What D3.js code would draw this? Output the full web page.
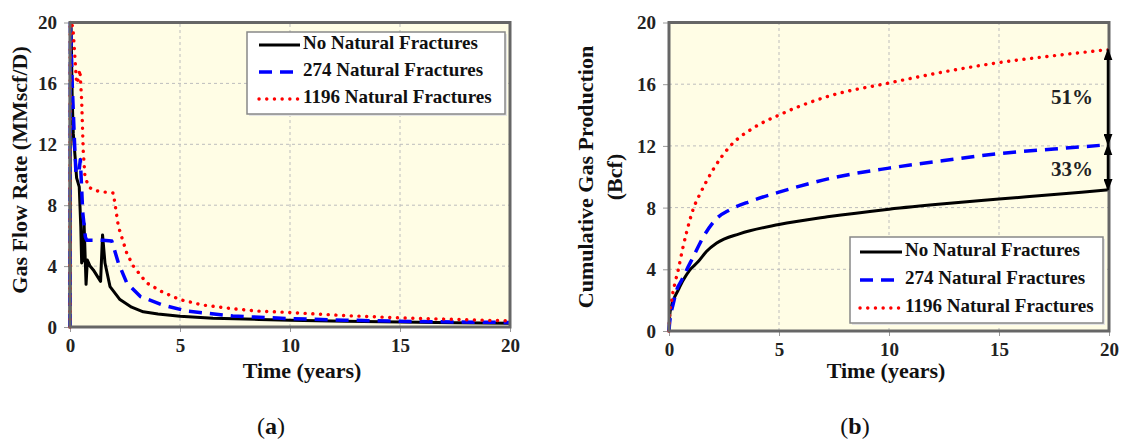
<!DOCTYPE html>
<html>
<head>
<meta charset="utf-8">
<script src="https://cdn.jsdelivr.net/npm/d3@7"></script>
<style>
  body { margin: 0; background: #fff; }
  svg { display: block; }
  text { font-family: "Liberation Serif", "Times New Roman", serif; }
</style>
</head>
<body>
<svg id="chart" width="1123" height="441"></svg>
<script>
// ---------- DATA ----------
const seriesNames = ["No Natural Fractures", "274 Natural Fractures", "1196 Natural Fractures"];
const xTicks = [0, 5, 10, 15, 20];
const yTicks = [0, 4, 8, 12, 16, 20];

// Panel (a): gas flow rate (MMscf/D) vs time (years)
const rateNoNF = [[0,0],[0.02,20],[0.05,19.6],[0.1,15],[0.15,12.7],[0.23,11.2],[0.3,9.8],[0.42,9.2],[0.49,6.6],[0.53,4.2],[0.6,4.5],[0.64,6.8],[0.73,2.8],[0.79,4.4],[0.91,4.0],[1.06,3.75],[1.39,3.0],[1.48,6.05],[1.59,4.2],[1.82,2.65],[2.27,1.8],[2.8,1.3],[3.33,1.0],[4,0.85],[5,0.7],[6.5,0.58],[8.6,0.5],[10,0.45],[12.5,0.38],[15,0.33],[17.5,0.28],[20,0.25]];
const rate274 = [[0,0],[0.02,20],[0.1,16],[0.2,12.3],[0.27,10.1],[0.4,10.1],[0.47,11],[0.58,7.5],[0.7,5.9],[0.76,5.7],[1.5,5.7],[1.9,5.65],[2.2,4.2],[2.58,2.9],[3.2,2.0],[4.2,1.45],[5.3,1.05],[7.4,0.72],[10,0.55],[12.5,0.45],[15,0.38],[17.5,0.33],[20,0.3]];
const rate1196 = [[0,0],[0.01,20],[0.1,19.8],[0.15,19.3],[0.23,17.6],[0.3,16.0],[0.38,16.3],[0.45,16.9],[0.53,14.9],[0.6,11.6],[0.68,9.9],[0.85,9.2],[1.06,9.0],[1.36,8.9],[1.97,8.8],[2.2,6.6],[2.58,4.85],[2.88,4.0],[3.48,2.9],[4.2,2.3],[5,1.8],[6,1.45],[7.4,1.2],[8.5,1.05],[10,0.95],[12.5,0.75],[15,0.6],[17.5,0.5],[20,0.4]];

// Panel (b): cumulative gas production (Bcf) vs time (years)
const cumNoNF = [[0,0],[0.02,0.7],[0.05,1.25],[0.2,2.0],[0.42,2.66],[0.65,3.3],[0.95,3.96],[1.33,4.5],[1.7,5.15],[2.17,5.7],[3.2,6.3],[5,6.9],[7.2,7.4],[10,7.9],[12.5,8.25],[15,8.55],[17.5,8.85],[20,9.15]];
const cum274 = [[0,0],[0.02,0.4],[0.2,1.8],[0.35,2.66],[0.58,3.3],[0.8,3.96],[1.1,4.8],[1.56,6.1],[2.17,7.3],[2.77,7.86],[3.68,8.4],[5,9.0],[7.5,9.95],[10,10.56],[12.5,11.05],[15,11.5],[17.5,11.8],[20,12.08]];
const cum1196 = [[0,0],[0.02,0.8],[0.12,2.0],[0.27,3.1],[0.42,3.96],[0.6,5.2],[0.8,6.4],[1.1,7.9],[1.45,9.0],[2.0,10.45],[2.77,11.97],[3.83,13.16],[5,14.0],[7.2,15.2],[10,16.08],[12.5,16.8],[15,17.4],[17.5,17.85],[20,18.25]];

// Annotation values (b)
const increaseLabels = ["51%", "33%"];
const arrowEnds = [[18.25, 12.08], [12.08, 9.15]];

// ---------- STYLES ----------
const styles = [
  { color: "#000", width: 3, dash: null, cap: "butt" },
  { color: "#0000FF", width: 3.5, dash: "13,8", cap: "butt" },
  { color: "#FF0000", width: 3.4, dash: "0.1,7.6", cap: "round" }
];

const svg = d3.select("#chart");
const defs = svg.append("defs");
defs.append("marker").attr("id", "ah").attr("viewBox", "0 0 10 10")
  .attr("refX", 9).attr("refY", 5).attr("markerWidth", 12).attr("markerHeight", 9)
  .attr("markerUnits", "userSpaceOnUse").attr("orient", "auto-start-reverse")
  .attr("preserveAspectRatio", "none")
  .append("path").attr("d", "M0,0 L10,5 L0,10 Z").attr("fill", "#000");

function panel(cfg) {
  const x = d3.scaleLinear().domain([0, 20]).range([cfg.x0, cfg.x1]);
  const y = d3.scaleLinear().domain([0, 20]).range([cfg.y0, cfg.y1]);
  const g = svg.append("g");
  const clipId = "clip" + cfg.id;
  defs.append("clipPath").attr("id", clipId).append("rect")
    .attr("x", cfg.x0 - 2).attr("y", cfg.y1 - 2).attr("width", cfg.x1 - cfg.x0 + 4).attr("height", cfg.y0 - cfg.y1 + 4);

  // background
  g.append("rect").attr("x", cfg.x0).attr("y", cfg.y1)
    .attr("width", cfg.x1 - cfg.x0).attr("height", cfg.y0 - cfg.y1).attr("fill", "#FFFDE5");

  // grid
  g.append("g").selectAll("line").data(xTicks.slice(1, -1)).join("line")
    .attr("x1", d => x(d)).attr("x2", d => x(d)).attr("y1", cfg.y0).attr("y2", cfg.y1)
    .attr("stroke", "#BDBDBD").attr("stroke-width", 1).attr("stroke-dasharray", "3,3");
  g.append("g").selectAll("line").data(yTicks.slice(1, -1)).join("line")
    .attr("y1", d => y(d)).attr("y2", d => y(d)).attr("x1", cfg.x0).attr("x2", cfg.x1)
    .attr("stroke", "#BDBDBD").attr("stroke-width", 1).attr("stroke-dasharray", "3,3");

  // axes
  const xAxis = d3.axisBottom(x).tickValues(xTicks).tickSize(5).tickPadding(5).tickFormat(d3.format("d"));
  const yAxis = d3.axisLeft(y).tickValues(yTicks).tickSize(6).tickPadding(7).tickFormat(d3.format("d"));
  const gx = g.append("g").attr("transform", `translate(0,${cfg.y0})`).call(xAxis);
  const gy = g.append("g").attr("transform", `translate(${cfg.x0},0)`).call(yAxis);
  [gx, gy].forEach(a => {
    a.select(".domain").remove();
    a.selectAll(".tick line").attr("stroke", "#999").attr("stroke-width", 1);
    a.selectAll(".tick text").attr("font-weight", "bold")
      .attr("font-size", 19).attr("fill", "#222");
  });
  gx.selectAll(".tick text").attr("dy", "0.8em");
  gy.selectAll(".tick text").attr("dy", "0.34em");

  // lines
  const line = cfg.curve ? d3.line().x(d => x(d[0])).y(d => y(d[1])).curve(d3.curveMonotoneX)
                         : d3.line().x(d => x(d[0])).y(d => y(d[1]));
  const lg = g.append("g").attr("clip-path", `url(#${clipId})`);
  cfg.series.forEach((s, i) => {
    const st = styles[i];
    lg.append("path").datum(s).attr("d", line).attr("fill", "none")
      .attr("stroke", st.color).attr("stroke-width", st.width)
      .attr("stroke-dasharray", st.dash).attr("stroke-linecap", st.cap)
      .attr("stroke-linejoin", "round");
  });

  // legend
  const L = cfg.legend;
  g.append("rect").attr("x", L.x + 2).attr("y", L.y + 2).attr("width", L.w).attr("height", L.h)
    .attr("fill", "#E4E4E4");
  g.append("rect").attr("x", L.x).attr("y", L.y).attr("width", L.w).attr("height", L.h)
    .attr("fill", "#fff").attr("stroke", "#888").attr("stroke-width", 1.5);
  seriesNames.forEach((name, i) => {
    const st = styles[i];
    const cy = L.y + L.r0 + i * L.dy;
    g.append("line").attr("x1", L.lx0).attr("x2", L.lx1).attr("y1", cy).attr("y2", cy)
      .attr("stroke", st.color).attr("stroke-width", st.width)
      .attr("stroke-dasharray", st.dash).attr("stroke-linecap", st.cap);
    g.append("text").attr("x", L.lx1 + 3).attr("y", cy).attr("dominant-baseline", "middle")
      .attr("font-weight", "bold").attr("font-size", 19).attr("fill", "#111").text(name);
  });

  // frame
  g.append("rect").attr("x", cfg.x0).attr("y", cfg.y1)
    .attr("width", cfg.x1 - cfg.x0).attr("height", cfg.y0 - cfg.y1)
    .attr("fill", "none").attr("stroke", "#666").attr("stroke-width", 3);

  // annotation
  if (cfg.annot) {
    arrowEnds.forEach((e, i) => {
      g.append("line").attr("x1", x(20) - 1).attr("x2", x(20) - 1)
        .attr("y1", y(e[0])).attr("y2", y(e[1]))
        .attr("stroke", "#000").attr("stroke-width", 2.5)
        .attr("marker-start", "url(#ah)").attr("marker-end", "url(#ah)");
      g.append("text").attr("x", cfg.labelX).attr("y", (y(e[0]) + y(e[1])) / 2 + (i === 0 ? 2 : 4))
        .attr("text-anchor", "middle").attr("dominant-baseline", "middle")
        .attr("font-weight", "bold").attr("font-size", 21).attr("fill", "#222")
        .text(increaseLabels[i]);
    });
  }

  // titles
  g.append("text").attr("x", cfg.xTitleX).attr("y", 373).attr("text-anchor", "middle")
    .attr("dominant-baseline", "middle").attr("font-weight", "bold").attr("font-size", 22)
    .attr("fill", "#111").text("Time  (years)");
  cfg.yTitles.forEach(t => {
    g.append("text").attr("transform", `translate(${t.x},${t.y}) rotate(-90)`)
      .attr("text-anchor", "middle").attr("dominant-baseline", "middle")
      .attr("font-weight", "bold").attr("font-size", 22).attr("fill", "#111").text(t.text);
  });
  g.append("text").attr("x", cfg.capX).attr("y", 428).attr("text-anchor", "middle")
    .attr("dominant-baseline", "middle").attr("font-size", 24).attr("fill", "#111")
    .html(cfg.caption);
}

panel({
  id: "a", x0: 70, x1: 510, y0: 327, y1: 22.5, curve: false,
  series: [rateNoNF, rate274, rate1196],
  legend: { x: 247, y: 32, w: 258, h: 82, r0: 13, dy: 27, lx0: 259, lx1: 300 },
  xTitleX: 302,
  yTitles: [{ x: 22, y: 170, text: "Gas Flow Rate (MMscf/D)" }],
  capX: 271, caption: "(<tspan font-weight='bold'>a</tspan>)"
});

panel({
  id: "b", x0: 669, x1: 1109, y0: 331, y1: 22.5, curve: true, annot: true, labelX: 1072,
  series: [cumNoNF, cum274, cum1196],
  legend: { x: 850, y: 237, w: 253, h: 86, r0: 15, dy: 28, lx0: 860, lx1: 902 },
  xTitleX: 886,
  yTitles: [{ x: 588, y: 177, text: "Cumulative Gas Production" }, { x: 617, y: 177, text: "(Bcf)" }],
  capX: 855, caption: "(<tspan font-weight='bold'>b</tspan>)"
});
</script>
</body>
</html>
